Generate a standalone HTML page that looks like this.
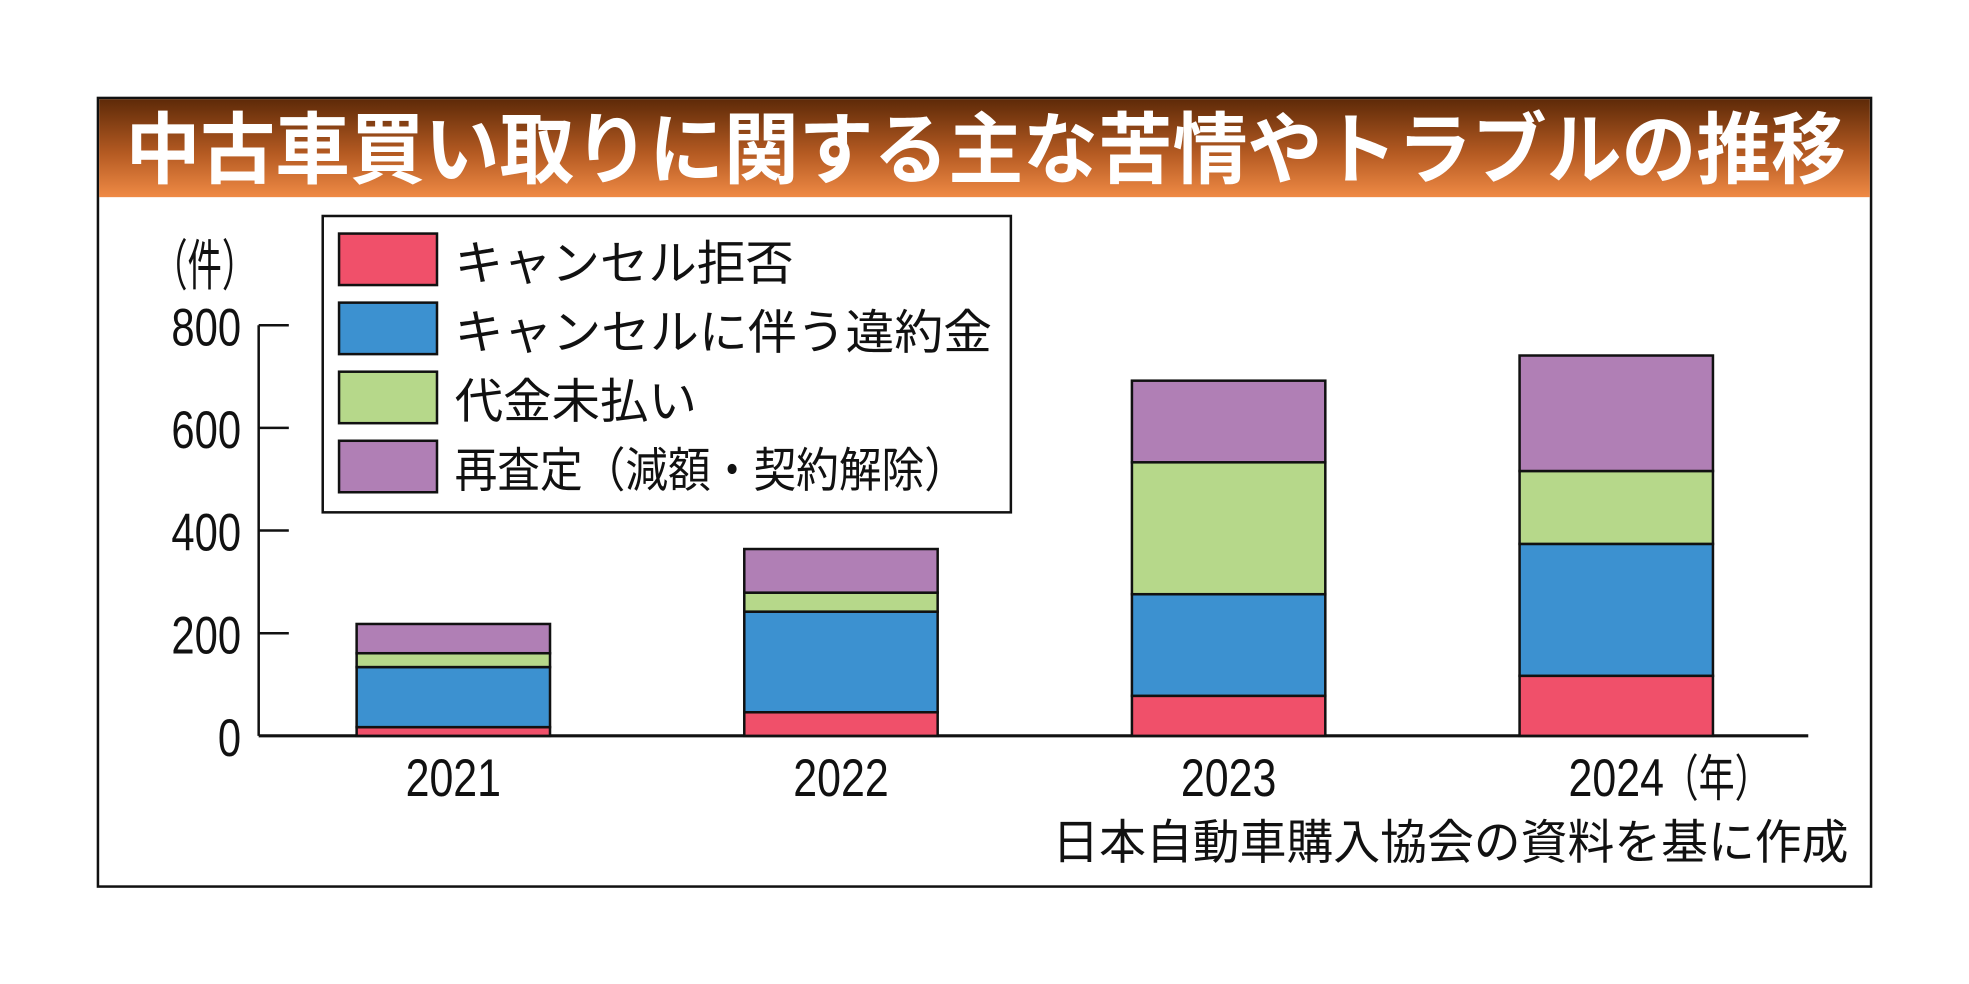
<!DOCTYPE html>
<html><head><meta charset="utf-8">
<style>
html,body{margin:0;padding:0;background:#fff;}
svg{display:block;}
text{font-family:"Liberation Sans","Noto Sans CJK JP",sans-serif;}
</style></head>
<body>
<svg id="chart" width="1969" height="984" viewBox="0 0 1568 783.6" preserveAspectRatio="none" xmlns="http://www.w3.org/2000/svg">
<defs>
<linearGradient id="tg" x1="0" y1="0" x2="0" y2="1">
<stop offset="0" stop-color="#5e2a08"/><stop offset="0.55" stop-color="#b45a22"/><stop offset="1" stop-color="#ef8a45"/>
</linearGradient>
</defs>
<rect x="78" y="78" width="1412" height="628" fill="#fff" stroke="#111" stroke-width="2"/>
<rect x="79" y="79" width="1410" height="78" fill="url(#tg)"/>
<text x="100" y="141" font-size="62" font-weight="bold" fill="#fff" textLength="1370" lengthAdjust="spacingAndGlyphs">中古車買い取りに関する主な苦情やトラブルの推移</text>
<text x="122" y="227" font-size="44" fill="#111" textLength="82" lengthAdjust="spacingAndGlyphs">（件）</text>
<g id="axes"></g>
<g id="bars"></g>
<g>
<rect x="257" y="172" width="548" height="236" fill="#fff" stroke="#111" stroke-width="2"/>
<rect x="270" y="186" width="78" height="41" fill="#f0506a" stroke="#111" stroke-width="2"/>
<text x="362" y="223" font-size="38" fill="#111" textLength="270" lengthAdjust="spacingAndGlyphs">キャンセル拒否</text>
<rect x="270" y="241" width="78" height="41" fill="#3c91d0" stroke="#111" stroke-width="2"/>
<text x="362" y="278" font-size="38" fill="#111" textLength="428" lengthAdjust="spacingAndGlyphs">キャンセルに伴う違約金</text>
<rect x="270" y="296" width="78" height="41" fill="#b6d88a" stroke="#111" stroke-width="2"/>
<text x="362" y="333" font-size="38" fill="#111" textLength="193" lengthAdjust="spacingAndGlyphs">代金未払い</text>
<rect x="270" y="351" width="78" height="41" fill="#b07fb5" stroke="#111" stroke-width="2"/>
<text x="362" y="388" font-size="38" fill="#111" textLength="408" lengthAdjust="spacingAndGlyphs">再査定（減額・契約解除）</text>
</g>
<text x="838" y="684" font-size="38" fill="#111" textLength="634" lengthAdjust="spacingAndGlyphs">日本自動車購入協会の資料を基に作成</text>
</svg>
<script>
const categories = ["2021", "2022", "2023", "2024"];
const cancelRefusal = [17, 46, 78, 117];
const cancelPenalty = [117, 196, 198, 257];
const unpaid = [27, 37, 257, 142];
const reassessment = [57, 85, 159, 225];
const yTicks = [0, 200, 400, 600, 800];
const yTickLabels = ["0", "200", "400", "600", "800"];

const NS = "http://www.w3.org/2000/svg";
const y0 = 586, pxPerUnit = 327 / 800;
const yScale = v => y0 - v * pxPerUnit;
const barLeft0 = 284, barStep = 308.7, barW = 154;
const xScale = i => barLeft0 + i * barStep;
function mk(tag, attrs, parent) {
  const el = document.createElementNS(NS, tag);
  for (const k in attrs) el.setAttribute(k, attrs[k]);
  parent.appendChild(el);
  return el;
}
const axes = document.getElementById('axes');
const bars = document.getElementById('bars');
let el = mk('line', {x1: 206, y1: yScale(800), x2: 206, y2: y0, stroke: '#111', 'stroke-width': 2}, axes);


yTicks.forEach((t, i) => {
  if (t > 0) {
    const tk = mk('line', {x1: 206, y1: yScale(t), x2: 230, y2: yScale(t), stroke: '#111', 'stroke-width': 2}, axes);
    
    
  }
  const lb = mk('text', {x: 192, y: yScale(t) + 16, 'font-size': 42, 'text-anchor': 'end', fill: '#111', textLength: yTickLabels[i].length * 18.5, lengthAdjust: 'spacingAndGlyphs'}, axes);
  lb.textContent = yTickLabels[i];
  
  
});
const series = [
  {name: 'cancel-refusal', vals: cancelRefusal, color: '#f0506a'},
  {name: 'cancel-penalty', vals: cancelPenalty, color: '#3c91d0'},
  {name: 'unpaid', vals: unpaid, color: '#b6d88a'},
  {name: 'reassessment', vals: reassessment, color: '#b07fb5'}
];
categories.forEach((c, i) => {
  let acc = 0;
  series.forEach(s => {
    const v = s.vals[i];
    const top = yScale(acc + v), bot = yScale(acc);
    const r = mk('rect', {x: xScale(i), y: top, width: barW, height: bot - top, fill: s.color, stroke: '#111', 'stroke-width': 2}, bars);
    
    
    acc += v;
  });
  const lb = mk('text', {x: xScale(i) + barW / 2, y: 634, 'font-size': 42, 'text-anchor': 'middle', fill: '#111', textLength: 76, lengthAdjust: 'spacingAndGlyphs'}, axes);
  lb.textContent = c;
  
  
});
el = mk('text', {x: 1324, y: 634, 'font-size': 40, fill: '#111', textLength: 86, lengthAdjust: 'spacingAndGlyphs'}, axes);
el.textContent = '（年）';


el = mk('line', {x1: 206, y1: y0, x2: 1440, y2: y0, stroke: '#111', 'stroke-width': 2.5}, axes);


</script>
</body></html>
